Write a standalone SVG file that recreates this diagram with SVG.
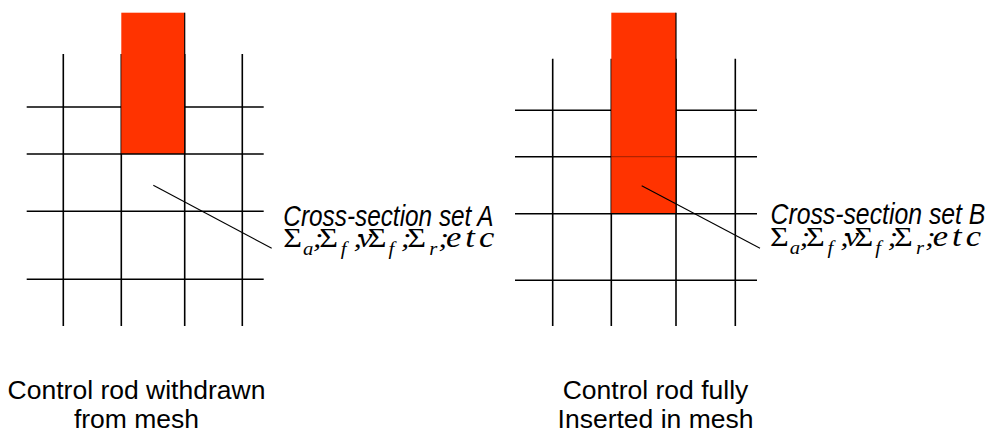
<svg xmlns="http://www.w3.org/2000/svg" width="994" height="435" viewBox="0 0 994 435">
<style>
.g{stroke:#000;stroke-width:1.6;fill:none}
.rod{fill:#FF3300;stroke:none}
.edge{stroke:#000;stroke-width:1.2}
.lead{stroke:#000;stroke-width:1.1;fill:none}
.ttl{font-family:"Liberation Sans",Arial,sans-serif;font-style:italic;font-size:29px;fill:#000}
.sg{font-family:"Liberation Serif","Times New Roman",serif;font-size:28px;fill:#000}
.it{font-style:italic}
.etc{font-family:"Liberation Serif","Times New Roman",serif;font-style:italic;font-size:30px;fill:#000}
.sub{font-family:"Liberation Serif","Times New Roman",serif;font-style:italic;font-size:18px}
.cap{font-family:"Liberation Sans",Arial,sans-serif;font-size:26.5px;fill:#000;text-anchor:middle}
</style>
<rect width="994" height="435" fill="#fff"/>

<g id="mesh-withdrawn">
  <g class="g">
    <line x1="63.3" y1="54" x2="63.3" y2="326"/>
    <line x1="121.3" y1="54" x2="121.3" y2="326"/>
    <line x1="184.7" y1="54" x2="184.7" y2="326"/>
    <line x1="242.3" y1="54" x2="242.3" y2="326"/>
    <line x1="26.7" y1="107" x2="263.7" y2="107"/>
    <line x1="26.7" y1="279.3" x2="263.7" y2="279.3"/>
    <line x1="26.7" y1="211.3" x2="263.7" y2="211.3"/>
  </g>
  <rect class="rod" x="121.3" y="12.7" width="63.4" height="141.3"/>
  <line class="edge" x1="184.7" y1="12.7" x2="184.7" y2="154"/>
  <line class="g" x1="26.7" y1="154" x2="263.7" y2="154"/>
</g>

<g id="mesh-inserted">
  <g class="g">
    <line x1="552.7" y1="58.7" x2="552.7" y2="326"/>
    <line x1="611.3" y1="58.7" x2="611.3" y2="326"/>
    <line x1="676" y1="58.7" x2="676" y2="326"/>
    <line x1="735.3" y1="58.7" x2="735.3" y2="326"/>
    <line x1="515" y1="110.3" x2="757" y2="110.3"/>
    <line x1="515" y1="156.7" x2="757" y2="156.7"/>
    <line x1="515" y1="280.3" x2="757" y2="280.3"/>
  </g>
  <rect class="rod" x="611.3" y="12.7" width="64.7" height="201"/>
  <line x1="611.3" y1="156.7" x2="676" y2="156.7" stroke="#000" stroke-width="1.2" stroke-opacity="0.3"/>
  <line class="edge" x1="676" y1="12.7" x2="676" y2="213.7"/>
  <line class="g" x1="515" y1="213.7" x2="757" y2="213.7"/>
</g>

<g id="connectors">
  <line class="lead" x1="153.3" y1="185.3" x2="271.7" y2="248.3"/>
  <line class="lead" x1="641.7" y1="185.7" x2="760" y2="248.3"/>
</g>

<g id="label-set-a">
  <text class="ttl" transform="translate(283.3,225.5) scale(0.84,1)" x="0" y="0">Cross-section set A</text>
  <g transform="translate(283.3,246.5) scale(1.15,1)">
    <text class="sg" y="0"><tspan x="0">Σ</tspan><tspan class="sub" x="17.1" dy="8">a</tspan><tspan class="it" x="25.6" dy="-8">;</tspan><tspan x="31.3">Σ</tspan><tspan class="sub" x="50" dy="8">f</tspan><tspan class="it" x="60.9" dy="-8">;</tspan><tspan class="it" x="65">ν</tspan><tspan x="73.5">Σ</tspan><tspan class="sub" x="91.5" dy="8">f</tspan><tspan class="it" x="102.1" dy="-8">;</tspan><tspan x="107.8">Σ</tspan><tspan class="sub" x="127" dy="8">r</tspan><tspan class="it" x="134.8" dy="-8">;</tspan></text>
    <text class="etc" x="141.5" y="0" textLength="42" lengthAdjust="spacing">etc</text>
  </g>
</g>

<g id="label-set-b">
  <text class="ttl" transform="translate(770.5,224) scale(0.855,1)" x="0" y="0">Cross-section set B</text>
  <g transform="translate(770,246) scale(1.15,1)">
    <text class="sg" y="0"><tspan x="0">Σ</tspan><tspan class="sub" x="17.1" dy="8">a</tspan><tspan class="it" x="25.6" dy="-8">;</tspan><tspan x="31.3">Σ</tspan><tspan class="sub" x="50" dy="8">f</tspan><tspan class="it" x="60.9" dy="-8">;</tspan><tspan class="it" x="65">ν</tspan><tspan x="73.5">Σ</tspan><tspan class="sub" x="91.5" dy="8">f</tspan><tspan class="it" x="102.1" dy="-8">;</tspan><tspan x="107.8">Σ</tspan><tspan class="sub" x="127" dy="8">r</tspan><tspan class="it" x="134.8" dy="-8">;</tspan></text>
    <text class="etc" x="141.5" y="0" textLength="42" lengthAdjust="spacing">etc</text>
  </g>
</g>

<g id="caption-withdrawn">
  <text class="cap" x="136.5" y="399.3">Control rod withdrawn</text>
  <text class="cap" x="136.5" y="428.3">from mesh</text>
</g>

<g id="caption-inserted">
  <text class="cap" x="655.5" y="399.3">Control rod fully</text>
  <text class="cap" x="655.5" y="428.3">Inserted in mesh</text>
</g>
</svg>
